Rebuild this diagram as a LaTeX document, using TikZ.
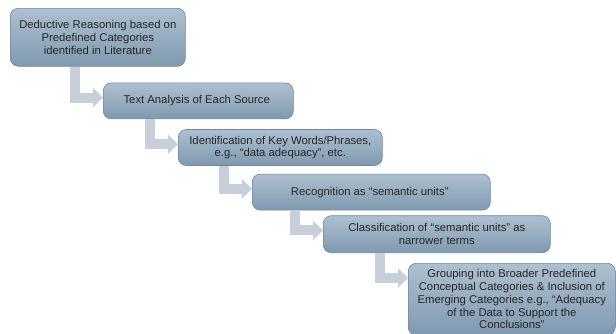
\documentclass[tikz,border=0pt]{standalone}
\usepackage{fontspec}
\setmainfont{Liberation Sans}
\usepackage{tikz}
\usetikzlibrary{positioning, arrows.meta}
\definecolor{stagetop}{HTML}{AEC0D0}
\definecolor{stagebottom}{HTML}{7F99B0}
\definecolor{stageborder}{HTML}{6E879D}
\definecolor{stagetext}{HTML}{262626}
\definecolor{flowgray}{HTML}{C7D0D9}

\begin{document}
\begin{tikzpicture}[stage/.style 2 args={rectangle,
      rounded corners=8pt,
      draw=stageborder,
      line width=0.6pt,
      top color=stagetop,
      bottom color=stagebottom,
      text=stagetext,
      font=\fontsize{11.3}{12.8}\selectfont,
      align=center,
      inner sep=2pt,
      minimum width=#1,
      minimum height=#2},
    flow/.style={draw=flowgray,
      line width=10pt,
      line join=miter,
      -{Triangle[width=19pt, length=10pt]}}]
  \useasboundingbox (0,0) rectangle (616pt,-333pt);

% STAGES

  \node [stage={175pt}{58pt}, anchor=north west] (deductive) at (10pt,-8pt) {
    Deductive Reasoning based on\\
    Predefined Categories\\
    identified in Literature
  };

  \node [stage={190pt}{36pt},
    below right=16pt and 93pt of deductive.south west] (analysis) {
    Text Analysis of Each Source
  };

  \node [stage={204pt}{36pt},
    below right=10pt and 75pt of analysis.south west] (keywords) {
    Identification of Key Words/Phrases,\\
    e.g., “data adequacy”, etc.
  };

  \node [stage={238pt}{36pt},
    below right=8pt and 74pt of keywords.south west] (semantic) {
    Recognition as “semantic units”
  };

  \node [stage={227pt}{37pt},
    below right=5pt and 71pt of semantic.south west] (classify) {
    Classification of “semantic units” as\\
    narrower terms
  };

  \node [stage={207pt}{72pt},
    below right=10pt and 85pt of classify.south west] (grouping) {
    Grouping into Broader Predefined\\
    Conceptual Categories \& Inclusion of\\
    Emerging Categories e.g., “Adequacy\\
    of the Data to Support the\\
    Conclusions”
  };

  % BENT ARROWS

  \foreach \from/\to in {deductive/analysis, analysis/keywords,
      keywords/semantic, semantic/classify, classify/grouping}
    \draw[flow] ([xshift=-28pt]\to.north west |- \from.south)
      |- ([yshift=-15pt]\to.north west);

\end{tikzpicture}
\end{document}
